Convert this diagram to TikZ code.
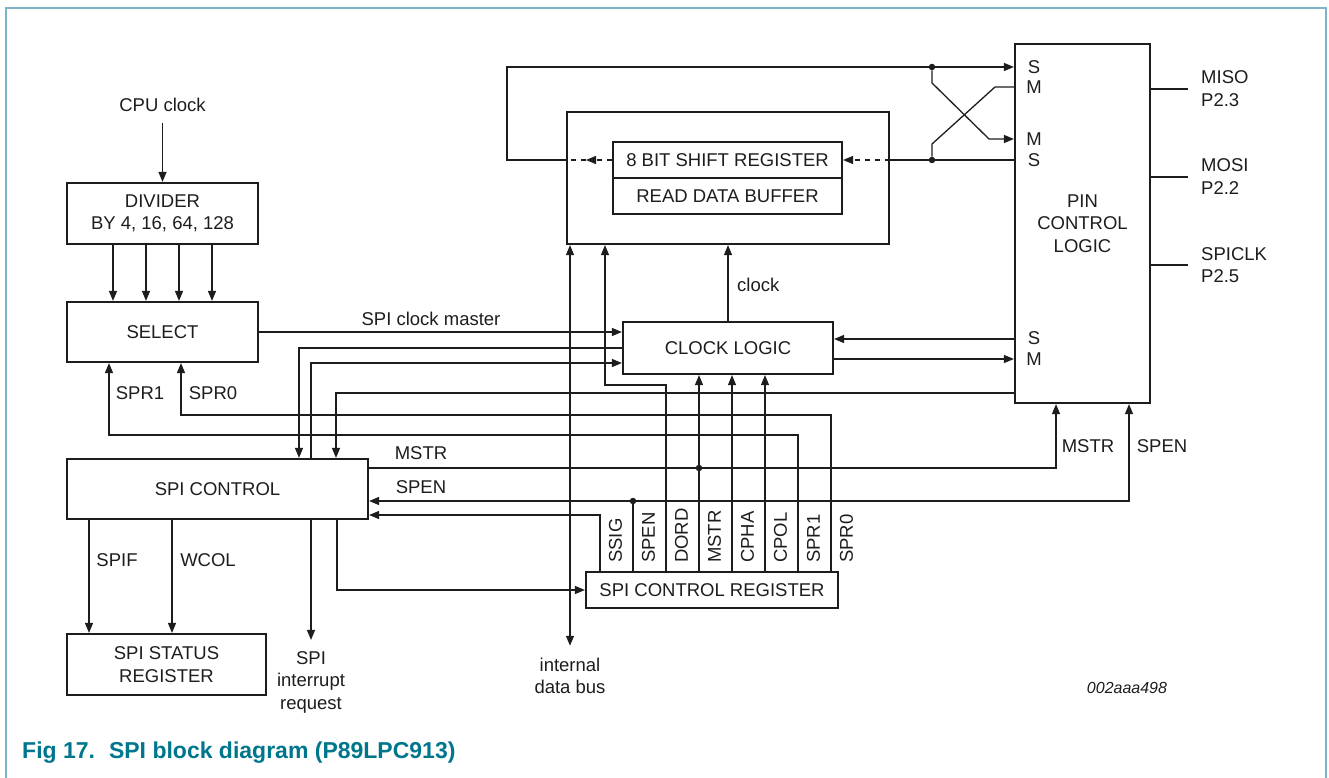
\documentclass[tikz,border=0pt]{standalone}
\usepackage{fontspec}
\setmainfont{Liberation Sans}
\usetikzlibrary{arrows.meta}
\definecolor{inkgray}{RGB}{30,28,28}
\definecolor{frameblue}{RGB}{125,180,200}
\definecolor{capteal}{RGB}{0,118,140}
\tikzset{
  blk/.style={draw=inkgray, line width=2.2pt, inner sep=0pt, align=center},
  wire/.style={draw=inkgray, line width=1.3pt},
  arr/.style={wire, -{Triangle[length=10pt,width=8pt]}},
  biarr/.style={wire, {Triangle[length=10pt,width=8pt]}-{Triangle[length=10pt,width=8pt]}},
  lbl/.style={inner sep=0pt},
  junct/.style={circle, fill=inkgray, inner sep=0pt, minimum size=6.5pt},
}
\begin{document}
\begin{tikzpicture}[x=1pt, y=-1pt, font=\fontsize{18.5}{22.5}\selectfont, text=inkgray]
\useasboundingbox (0,0) rectangle (1329,778);
\draw[frameblue, line width=2pt] (5.5,778) -- (5.5,8.5) -- (1326,8.5) -- (1326,778);

% blocks
\node[blk, minimum width=191pt, minimum height=61pt] (div) at (162.5,213.5) {DIVIDER\\BY 4, 16, 64, 128};
\node[blk, minimum width=191pt, minimum height=60pt] (sel) at (162.5,332) {SELECT};
\node[blk, minimum width=301pt, minimum height=60pt] (ctl) at (217.5,489) {SPI CONTROL};
\node[blk, minimum width=199pt, minimum height=61pt] (stat) at (166.5,664.5) {SPI STATUS\\REGISTER};
\node[blk, minimum width=322pt, minimum height=132pt] (dat) at (728,178) {};
\node[blk, minimum width=229pt, minimum height=36pt] (shift) at (727.5,160) {8 BIT SHIFT REGISTER};
\node[blk, minimum width=229pt, minimum height=36pt] (rbuf) at (727.5,196) {READ DATA BUFFER};
\node[blk, minimum width=210pt, minimum height=52pt] (clk) at (728,348) {CLOCK LOGIC};
\node[blk, minimum width=135pt, minimum height=359pt] (pin) at (1082.5,223.5) {PIN\\CONTROL\\LOGIC};
\node[blk, minimum width=252pt, minimum height=36pt] (reg) at (712,590) {SPI CONTROL REGISTER};

% register bits
\foreach \bit [count=\i from 0] in {SSIG,SPEN,DORD,MSTR,CPHA,CPOL,SPR1,SPR0} {
  \coordinate (b\bit) at (600+33*\i,0 |- reg.north);
  \node[lbl, rotate=90, anchor=west] at (615.5+33*\i,563) {\bit};
}

% clock divider
\node[lbl] (cpu) at (162.5,105) {CPU clock};
\draw[arr, shorten <=11pt] (cpu.south) -- (div.north);
\foreach \x in {113,146,179,212}
  \draw[arr] (\x,0 |- div.south) -- (\x,0 |- sel.north);
\draw[arr] (sel.east) -- (sel.east -| clk.west);
\node[lbl] (mst) at (431,319) {SPI clock master};
\draw[arr] (bSPR1) |- (109,435) -- (sel.south -| 109,0);
\draw[arr] (bSPR0) |- (181,415) -- (sel.south -| 181,0);
\node[lbl] (spr1) at (140,393) {SPR1};
\node[lbl] (spr0) at (213,393) {SPR0};

% spi control
\draw[arr] (clk.west) -| (ctl.north -| 299,0);
\draw[arr] (ctl.north -| 311,0) |- (clk.west |- 0,363);
\draw[arr] (pin.west |- 0,393) -| (ctl.north -| 336,0);
\draw[arr] (ctl.south -| 337,0) |- (reg.west);
\draw[arr] (ctl.south -| 89,0) -- (stat.north -| 89,0);
\draw[arr] (ctl.south -| 172,0) -- (stat.north -| 172,0);
\node[lbl] (spif) at (117,560) {SPIF};
\node[lbl] (wcol) at (208,560) {WCOL};
\node[lbl, align=center] (irq) at (311,682) {SPI\\interrupt\\request};
\draw[arr, shorten >=11pt] (ctl.south -| irq.north) -- (irq.north);

% control bits
\node[junct] (jmstr) at (bMSTR |- 0,468) {};
\node[junct] (jspen) at (bSPEN |- 0,501) {};
\draw[arr] (bSSIG) |- (ctl.east |- 0,515);
\draw[wire] (bSPEN) -- (jspen);
\draw[biarr] (ctl.east |- jspen) -| (pin.south -| 1129,0);
\draw[arr] (bDORD) |- (605,385) -- (dat.south -| 605,0);
\draw[arr] (bMSTR) -- (clk.south -| bMSTR);
\draw[arr] (ctl.east |- jmstr) -| (pin.south -| 1056,0);
\draw[arr] (bCPHA) -- (clk.south -| bCPHA);
\draw[arr] (bCPOL) -- (clk.south -| bCPOL);
\node[lbl] at (421,453) {MSTR};
\node[lbl] at (421,487) {SPEN};
\node[lbl] at (1088,446) {MSTR};
\node[lbl] at (1162,446) {SPEN};

% data bus and clock
\node[lbl, align=center] (bus) at (570,676) {internal\\data bus};
\draw[biarr, shorten >=12pt] (dat.south -| bus.north) -- (bus.north);
\draw[arr] (clk.north) -- (dat.south -| clk.north);
\node[lbl, anchor=west] (clklbl) at (737,285) {clock};
\draw[arr] (pin.west |- 0,339) -- (clk.east |- 0,339);
\draw[arr] (clk.east |- 0,359) -- (pin.west |- 0,359);

% shift register paths
\node[junct] (jtop) at (932,67) {};
\node[junct] (jbot) at (932,160) {};
\draw[wire, dash pattern=on 5pt off 5pt, -{Triangle[length=10pt,width=8pt]}] (shift.west) -- (586,160);
\draw[wire, dash pattern=on 5pt off 5pt] (586,160) -- (dat.west |- shift.west);
\draw[arr] (dat.west |- shift.west) -| (507,67) -- (pin.west |- jtop);
\draw[wire, dash pattern=on 5pt off 5pt, -{Triangle[length=10pt,width=8pt]}] (dat.east |- shift.east) -- (shift.east);
\draw[wire] (dat.east |- shift.east) -- (pin.west |- jbot);
\draw[arr] (jtop) -- (932,83) -- (989,139) -- (pin.west |- 0,139);
\draw[wire] (pin.west |- 0,87) -- (995,87) -- (932,144) -- (jbot);

% pin labels
\foreach \y/\s in {67/S,87/M,139/M,160/S,338/S,359/M}
  \node[lbl] at (1034,\y) {\s};
\node[lbl, anchor=west, align=left] (miso) at (1201,88.5) {MISO\\P2.3};
\node[lbl, anchor=west, align=left] (mosi) at (1201,176.5) {MOSI\\P2.2};
\node[lbl, anchor=west, align=left] (sck) at (1201,265) {SPICLK\\P2.5};
\draw[wire] (pin.east |- 0,89) -- (1188,89);
\draw[wire] (pin.east |- 0,177) -- (1188,177);
\draw[wire] (pin.east |- 0,265) -- (1188,265);

\node[lbl, font=\fontsize{16}{19}\selectfont\itshape] (code) at (1127,688) {002aaa498};
\node[lbl, anchor=base west, font=\fontsize{23}{27}\selectfont\bfseries, text=capteal] (cap) at (22,758) {Fig 17.\hspace{14pt}SPI block diagram (P89LPC913)};
\end{tikzpicture}
\end{document}
